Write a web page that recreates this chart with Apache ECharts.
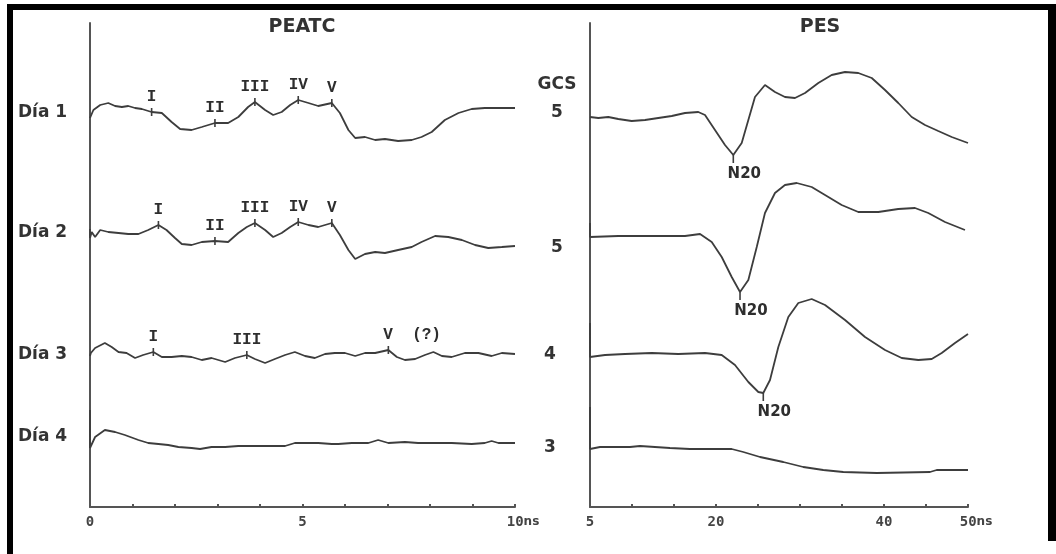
<!DOCTYPE html>
<html>
<head>
<meta charset="utf-8">
<script src="https://cdn.jsdelivr.net/npm/echarts@6/dist/echarts.min.js"></script>
<style>
html,body{margin:0;padding:0;background:#fff;}
#chart{width:1056px;height:554px;}
</style>
</head>
<body>
<div id="chart"></div>
<script>
// ---------- DATA ----------
const dayLabels = ['Día 1', 'Día 2', 'Día 3', 'Día 4'];
const gcsValues = ['5', '5', '4', '3'];
const leftTitle = 'PEATC';
const rightTitle = 'PES';
const gcsTitle = 'GCS';
const leftTickLabels = {0: '0', 5: '5', 10: '10ns'};
const rightTickLabels = {5: '5', 20: '20', 40: '40', 50: '50ns'};

// PEATC traces (time in ms, amplitude in display units)
const peatc1T = [0,0.08,0.24,0.43,0.59,0.75,0.90,1.06,1.22,1.45,1.69,1.92,2.12,2.39,2.63,2.94,3.25,3.49,3.72,3.88,4.12,4.31,4.51,4.71,4.90,5.14,5.37,5.69,5.88,6.08,6.24,6.47,6.71,6.94,7.25,7.57,7.80,8.04,8.35,8.67,8.98,9.29,9.61,10];
const peatc1V = [38.9,39.7,40.2,40.4,40.1,40.0,40.1,39.9,39.8,39.5,39.4,38.5,37.8,37.7,38.0,38.4,38.4,39.0,40.0,40.5,39.7,39.2,39.5,40.2,40.7,40.4,40.1,40.4,39.4,37.7,36.9,37.0,36.7,36.8,36.6,36.7,37.0,37.5,38.7,39.4,39.8,39.9,39.9,39.9];

const peatc2T = [0,0,0.04,0.12,0.24,0.43,0.67,0.90,1.14,1.37,1.61,1.80,2.00,2.16,2.39,2.63,2.94,3.25,3.49,3.69,3.88,4.12,4.31,4.51,4.71,4.90,5.14,5.37,5.69,5.88,6.08,6.24,6.47,6.71,6.94,7.25,7.57,7.80,8.12,8.43,8.75,9.06,9.37,9.69,10];
const peatc2V = [27.8,26.9,27.5,27.0,27.7,27.5,27.4,27.3,27.3,27.7,28.2,27.7,26.9,26.3,26.2,26.5,26.6,26.5,27.4,28.0,28.4,27.7,27.0,27.4,28.0,28.5,28.2,28.0,28.4,27.2,25.7,24.8,25.3,25.5,25.4,25.7,26.0,26.5,27.1,27.0,26.7,26.2,25.9,26.0,26.1];

const peatc3T = [0,0.02,0.12,0.35,0.51,0.67,0.86,1.06,1.25,1.49,1.69,1.92,2.16,2.39,2.63,2.86,3.18,3.41,3.69,3.88,4.12,4.35,4.59,4.82,5.06,5.29,5.53,5.76,6.00,6.24,6.47,6.71,7.02,7.22,7.41,7.65,7.88,8.08,8.28,8.51,8.82,9.14,9.45,9.69,10];
const peatc3V = [15.1,15.4,15.9,16.4,16.0,15.5,15.4,14.9,15.2,15.5,15.0,15.0,15.1,15.0,14.7,14.9,14.5,14.9,15.2,14.8,14.4,14.8,15.2,15.5,15.1,14.9,15.3,15.4,15.4,15.1,15.4,15.4,15.7,15.0,14.7,14.8,15.2,15.5,15.1,15.0,15.4,15.4,15.1,15.4,15.3];

const peatc4T = [0,0,0.02,0.12,0.35,0.59,0.82,1.14,1.37,1.61,1.84,2.08,2.39,2.59,2.86,3.18,3.49,3.80,4.28,4.59,4.82,5.37,5.69,5.84,6.16,6.55,6.78,7.02,7.41,7.72,8.51,8.98,9.29,9.45,9.61,10];
const peatc4V = [9.7,5.9,6.0,7.0,7.7,7.5,7.2,6.7,6.4,6.3,6.2,6.0,5.9,5.8,6.0,6.0,6.1,6.1,6.1,6.1,6.4,6.4,6.3,6.3,6.4,6.4,6.7,6.4,6.5,6.4,6.4,6.3,6.4,6.6,6.4,6.4];

// PES traces
const pes1T = [5,5.99,7.18,8.37,9.96,11.55,13.13,14.73,16.31,17.89,18.69,19.88,21.07,22.06,23.06,23.85,24.64,25.83,27.02,28.21,29.40,30.60,32.18,33.77,35.36,36.94,38.54,40.12,41.70,43.30,44.88,46.46,48.06,50];
const pes1V = [39.0,38.9,39.0,38.8,38.6,38.7,38.9,39.1,39.4,39.5,39.2,37.7,36.2,35.2,36.4,38.7,41.0,42.2,41.5,41.0,40.9,41.4,42.4,43.2,43.5,43.4,42.9,41.7,40.4,39.0,38.2,37.6,37.0,36.4];

const pes2T = [5,5,8.37,12.35,16.31,18.10,19.49,20.68,21.87,22.86,23.85,24.85,25.83,27.02,28.21,29.61,31.39,32.98,34.96,36.94,39.32,41.70,43.69,45.27,47.26,49.64];
const pes2V = [28.4,27.0,27.1,27.1,27.1,27.3,26.5,25.0,23.0,21.5,22.7,26.0,29.4,31.4,32.2,32.4,32.0,31.2,30.2,29.5,29.5,29.8,29.9,29.4,28.5,27.7];

const pes3T = [5,5,6.79,9.17,12.35,15.51,18.69,20.68,22.26,23.85,25.04,25.63,26.43,27.42,28.61,29.80,31.39,32.98,35.36,37.74,40.12,42.11,44.08,45.68,46.87,48.45,50];
const pes3V = [18.4,15.0,15.2,15.3,15.4,15.3,15.4,15.2,14.2,12.5,11.5,11.4,12.7,16.0,19.0,20.4,20.8,20.2,18.7,17.0,15.7,14.9,14.7,14.8,15.4,16.4,17.3];

const pes4T = [5,5,6.19,9.76,10.95,14.52,16.90,21.87,23.25,25.24,28.01,30.39,32.77,35.15,39.13,45.48,46.27,50];
const pes4V = [10.0,5.8,6.0,6.0,6.1,5.9,5.8,5.8,5.5,5.0,4.5,4.0,3.7,3.5,3.4,3.5,3.7,3.7];

// Wave markers (PEATC)
const waves1Names = ['I','II','III','IV','V'];
const waves1T = [1.45,2.94,3.88,4.90,5.69];
const waves1V = [39.5,38.4,40.5,40.7,40.4];
const waves2Names = ['I','II','III','IV','V'];
const waves2T = [1.61,2.94,3.88,4.90,5.69];
const waves2V = [28.2,26.6,28.4,28.5,28.4];
const waves3Names = ['I','III','V  (?)'];
const waves3T = [1.49,3.69,7.02];
const waves3V = [15.5,15.2,15.7];

// N20 markers (PES)
const n20Name = 'N20';
const n20T = [22.06,22.86,25.63];
const n20V = [35.2,21.5,11.4];

// ---------- CHART ----------
const zip = (t, v) => t.map((x, i) => [x, v[i]]);
const traceColor = '#3d3d3d';
const lineSeries = (t, v, idx) => ({
  type: 'line', xAxisIndex: idx, yAxisIndex: idx, data: zip(t, v),
  showSymbol: false, symbol: 'none', smooth: false, animation: false,
  lineStyle: {color: traceColor, width: 1.8}
});
const markerFont = {fontFamily: 'Liberation Mono', fontWeight: 'bold', fontSize: 16, color: '#2e2e2e'};
const waveSeries = (names, t, v) => ({
  type: 'scatter', xAxisIndex: 0, yAxisIndex: 0, animation: false,
  symbol: 'rect', symbolSize: [1.6, 8], itemStyle: {color: traceColor, opacity: 1},
  data: names.map((n, i) => {
    const item = {name: n, value: [t[i], v[i]]};
    if (n.length > 3) item.label = {align: 'left', offset: [-5, 0]};
    return item;
  }),
  label: Object.assign({show: true, position: 'top', distance: 3, formatter: p => p.name}, markerFont)
});

const axisLabelStyle = {
  color: '#444', fontFamily: 'DejaVu Sans Mono', fontWeight: 'bold', fontSize: 14, margin: 8,
  rich: {
    sp: {width: 16},
    n: {fontFamily: 'DejaVu Sans Mono', fontWeight: 'bold', fontSize: 14, color: '#444'},
    u: {fontFamily: 'DejaVu Sans', fontWeight: 'bold', fontSize: 12, color: '#444'}
  }
};
const fmtTick = (map) => (val) => {
  const key = Math.round(val);
  if (Math.abs(val - key) > 1e-6 || !(key in map)) return '';
  const s = map[key];
  if (s.endsWith('ns')) return '{sp| }{n|' + s.slice(0, -2) + '}{u|ns}';
  return '{n|' + s + '}';
};
const axisLineStyle = {show: true, lineStyle: {color: '#555', width: 2}};

const texts = [];
const addText = (x, y, text, size, align) => texts.push({
  type: 'text', x: x, y: y, silent: true,
  style: {text: text, fill: '#333', font: 'bold ' + size + 'px "DejaVu Sans"', textAlign: align || 'center', textVerticalAlign: 'middle'}
});
addText(302, 27, leftTitle, 19);
addText(820, 27, rightTitle, 19);
addText(557, 85, gcsTitle, 17);
const dayY = [113, 233, 355, 437];
const gcsX = [557, 557, 550, 550];
const gcsY = [113, 248, 355, 448];
dayLabels.forEach((d, i) => addText(18, dayY[i], d, 17, 'left'));
gcsValues.forEach((g, i) => addText(gcsX[i], gcsY[i], g, 17));

const frame = [
  {type: 'rect', shape: {x: 7, y: 4, width: 1049, height: 6}, style: {fill: '#000'}, silent: true},
  {type: 'rect', shape: {x: 7, y: 4, width: 6, height: 550}, style: {fill: '#000'}, silent: true},
  {type: 'rect', shape: {x: 1048, y: 4, width: 8, height: 537}, style: {fill: '#000'}, silent: true}
];

const chart = echarts.init(document.getElementById('chart'), null, {renderer: 'canvas'});
chart.setOption({
  backgroundColor: '#fff',
  animation: false,
  grid: [
    {left: 90, top: 23, width: 425, height: 484},
    {left: 590, top: 23, width: 378, height: 484}
  ],
  xAxis: [
    {type: 'value', gridIndex: 0, min: 0, max: 10, interval: 1,
     axisLine: axisLineStyle, axisTick: {show: true, inside: true, length: 3, lineStyle: {color: '#555', width: 2}},
     splitLine: {show: false}, axisLabel: Object.assign({formatter: fmtTick(leftTickLabels)}, axisLabelStyle)},
    {type: 'value', gridIndex: 1, min: 5, max: 50, interval: 5,
     axisLine: axisLineStyle, axisTick: {show: true, inside: true, length: 3, lineStyle: {color: '#555', width: 2}},
     splitLine: {show: false}, axisLabel: Object.assign({formatter: fmtTick(rightTickLabels)}, axisLabelStyle)}
  ],
  yAxis: [
    {type: 'value', gridIndex: 0, min: 0, max: 48.4, axisLine: axisLineStyle, axisTick: {show: false}, axisLabel: {show: false}, splitLine: {show: false}},
    {type: 'value', gridIndex: 1, min: 0, max: 48.4, axisLine: axisLineStyle, axisTick: {show: false}, axisLabel: {show: false}, splitLine: {show: false}}
  ],
  series: [
    lineSeries(peatc1T, peatc1V, 0),
    lineSeries(peatc2T, peatc2V, 0),
    lineSeries(peatc3T, peatc3V, 0),
    lineSeries(peatc4T, peatc4V, 0),
    lineSeries(pes1T, pes1V, 1),
    lineSeries(pes2T, pes2V, 1),
    lineSeries(pes3T, pes3V, 1),
    lineSeries(pes4T, pes4V, 1),
    waveSeries(waves1Names, waves1T, waves1V),
    waveSeries(waves2Names, waves2T, waves2V),
    waveSeries(waves3Names, waves3T, waves3V),
    {type: 'scatter', xAxisIndex: 1, yAxisIndex: 1, animation: false,
     symbol: 'rect', symbolSize: [1.6, 8], symbolOffset: [0, 4], itemStyle: {color: traceColor, opacity: 1},
     data: n20T.map((t, i) => ({name: n20Name, value: [t, n20V[i]]})),
     label: {show: true, position: 'bottom', distance: 4, offset: [11, 0], formatter: p => p.name,
             fontFamily: 'DejaVu Sans', fontWeight: 'bold', fontSize: 15, color: '#2e2e2e'}}
  ],
  graphic: frame.concat(texts)
});
</script>
</body>
</html>
